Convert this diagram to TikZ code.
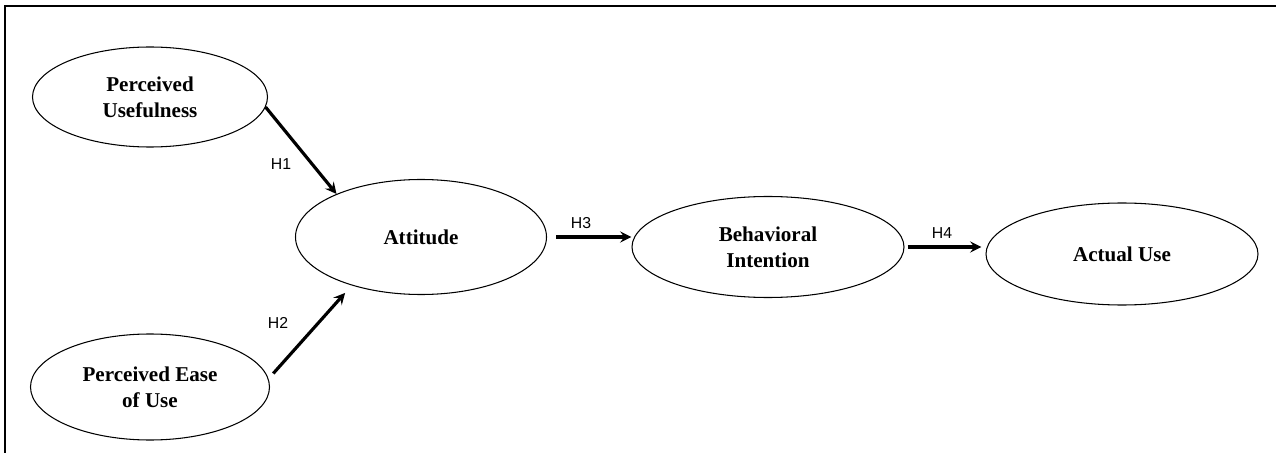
\documentclass[tikz,border=0pt]{standalone}
\usepackage{fontspec}
\setmainfont{Liberation Serif}
\newfontfamily\hypfont{Liberation Sans}
\usepackage{tikz}
\usetikzlibrary{arrows,shapes,positioning}
\usepackage{xcolor}
\definecolor{tamblack}{RGB}{0,0,0}
\tikzstyle{construct} = [ellipse, draw=tamblack, line width=0.6pt, align=center, font=\fontsize{12}{15}\selectfont\bfseries, inner sep=0pt]
\tikzstyle{hyparrow} = [line width=1.8pt, ->, >=stealth, color=tamblack]
\tikzstyle{hyplabel} = [font=\hypfont\fontsize{9}{10}\selectfont, inner sep=0pt]

\begin{document}
\begin{tikzpicture}
\useasboundingbox (0,0) rectangle (25.52,9.06);
% Frame
\draw[line width=1.1pt] (25.52,8.94) -- (0.1,8.94) -- (0.1,0);

% Constructs
\node[construct, minimum width=4.7cm, minimum height=2cm] (pu) at (3.0,7.12) {Perceived\\Usefulness};
\node[construct, minimum width=4.78cm, minimum height=2.12cm] (peu) at (3.0,1.32) {Perceived Ease\\of Use};
\node[construct, minimum width=5.02cm, minimum height=2.3cm] (att) at (8.42,4.32) {Attitude};
\node[construct, minimum width=5.44cm, minimum height=2.02cm] (bi) at (15.36,4.12) {Behavioral\\Intention};
\node[construct, minimum width=5.44cm, minimum height=2.04cm] (au) at (22.44,3.98) {Actual Use};

% Hypotheses
\draw[hyparrow] (pu.-5) -- (att.153);
\draw[hyparrow, shorten <=0.14cm, shorten >=0.2cm] (peu.4) -- (att.215);
\draw[hyparrow, shorten <=0.18cm] (att.east) -- (att.east -| bi.west);
\draw[hyparrow, shorten <=0.06cm, shorten >=0.08cm] (bi.east) -- (bi.east -| au.west);

\node[hyplabel] (h1) at (5.62,5.78) {H1};
\node[hyplabel] (h2) at (5.56,2.61) {H2};
\node[hyplabel] (h3) at (11.62,4.6) {H3};
\node[hyplabel] (h4) at (18.84,4.4) {H4};
\end{tikzpicture}
\end{document}
